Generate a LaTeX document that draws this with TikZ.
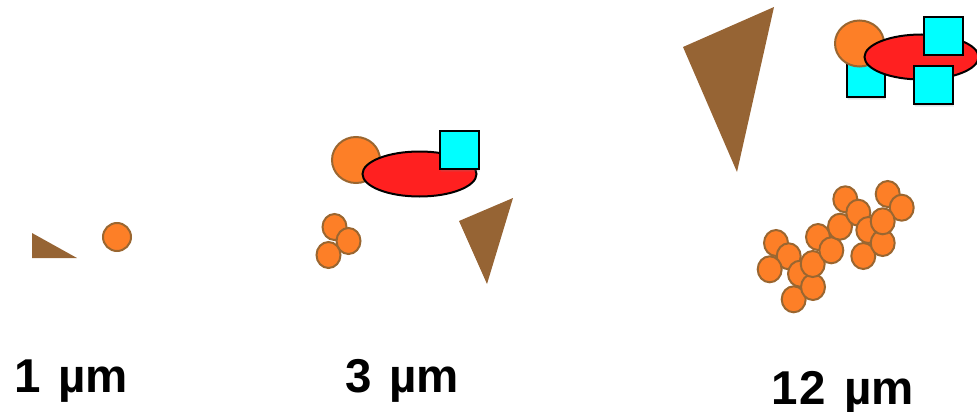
\documentclass[tikz,border=0pt]{standalone}
\usepackage{fontspec}
\setmainfont{Liberation Sans}
\usetikzlibrary{shadows}
\definecolor{dust}{RGB}{150,100,52}
\definecolor{grain}{RGB}{253,127,39}
\definecolor{grainrim}{RGB}{154,102,48}
\definecolor{blob}{RGB}{255,32,32}
\definecolor{cube}{RGB}{0,255,255}
\tikzset{
  particle/.style={fill=grain, draw=grainrim, line width=2pt},
  shard/.style={fill=dust},
  cell/.style={fill=blob, draw=black, line width=2pt},
  crystal/.style={fill=cube, draw=black, line width=2pt,
    drop shadow={shadow xshift=0.5pt, shadow yshift=-3pt, opacity=0.12},
    drop shadow={shadow xshift=0.3pt, shadow yshift=-1.5pt, opacity=0.12}},
  sizelabel/.style={font=\bfseries\fontsize{47.5}{50}\selectfont, inner sep=0pt, anchor=base west}
}
\newcommand{\gap}{\hspace{18pt}}
\begin{document}
\begin{tikzpicture}[x=1pt, y=-1pt]
\useasboundingbox (0,0) rectangle (977,412);

% --- 1 um ---
\fill[shard] (32,233) -- (32,258) -- (77,258) -- cycle;
\draw[particle] (117,237) circle [x radius=14, y radius=14];

% --- 3 um ---
\draw[particle] (356,160) circle [x radius=24, y radius=23];
\draw[cell] (419.5,174) circle [x radius=57, y radius=22.5];
\draw[crystal] (440,131) rectangle (479,169);
\draw[particle] (334.5,227) circle [x radius=12, y radius=13];
\draw[particle] (348.5,241) circle [x radius=12, y radius=13];
\draw[particle] (328.5,255) circle [x radius=12, y radius=13];
\fill[shard] (459,221) -- (513,198) -- (487,284) -- cycle;

% --- 12 um ---
\fill[shard] (683,47) -- (774,7) -- (737,172) -- cycle;
\draw[crystal] (847,59) rectangle (885,97);
\draw[particle] (859.5,43.5) circle [x radius=24.5, y radius=23];
\draw[cell] (921.5,57) circle [x radius=57, y radius=22.5];
\draw[crystal] (924,17) rectangle (963,55);
\draw[crystal] (914,66) rectangle (953,104);

% grain cluster
\foreach \cx/\cy in {
  776/243, 788.7/256.3, 769.7/269.3, 793.7/299.3, 800/273.7, 813/287, 812.7/264,
  818/237, 831.3/250.3, 840/226.7, 845.3/199.3, 858.3/212.7, 863.3/256,
  868.3/230, 882.7/243, 887.7/194, 901.7/207.7, 882.7/221.3}
  \draw[particle] (\cx,\cy) circle [x radius=12, y radius=13];

% --- size labels ---
\node[sizelabel] (lab1) at (14,392) {1\gap µm};
\node[sizelabel] (lab3) at (345,392) {3\gap µm};
\node[sizelabel] (lab12) at (771,404) {1\kern2pt 2\gap µm};
\end{tikzpicture}
\end{document}
